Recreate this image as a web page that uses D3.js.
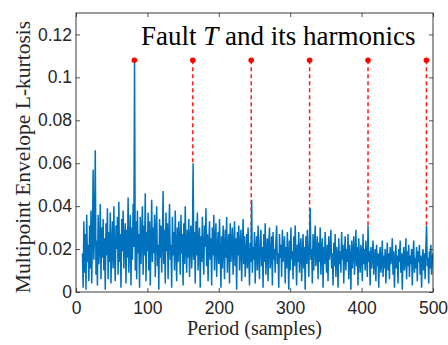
<!DOCTYPE html>
<html>
<head>
<meta charset="utf-8">
<script src="https://cdn.jsdelivr.net/npm/d3@7"></script>
<style>
  body { margin: 0; background: #fff; }
  .tick text { font-family: "Liberation Sans", Arial, sans-serif; }
</style>
</head>
<body>
<svg id="chart"></svg>
<script>
// Periods are integer sample counts, 9..500
const periods = d3.range(9, 501);

// Multipoint envelope L-kurtosis (one per period)
const kurtosis = [
  .018,.002,.033,.009,.027,.001,.036,.014,.022,.005,
  .031,.011,.038,.004,.025,.057,.015,.028,.066,.008,
  .024,.003,.036,.013,.021,.041,.006,.030,.016,.034,
  .010,.025,.001,.032,.017,.039,.006,.028,.014,.037,
  .004,.022,.033,.011,.040,.017,.005,.031,.020,.035,
  .008,.042,.014,.027,.002,.034,.019,.038,.011,.025,
  .032,.004,.029,.016,.044,.009,.024,.036,.003,.030,
  .015,.041,.021,.108,.010,.033,.006,.038,.018,.027,
  .002,.035,.013,.026,.040,.008,.031,.017,.046,.005,
  .028,.019,.037,.010,.033,.003,.023,.043,.014,.030,
  .018,.036,.007,.027,.040,.012,.022,.001,.034,.016,
  .031,.009,.024,.047,.013,.029,.004,.037,.019,.032,
  .006,.026,.041,.015,.022,.002,.035,.017,.028,.010,
  .038,.020,.005,.030,.014,.033,.023,.008,.036,.018,
  .027,.003,.032,.013,.040,.021,.009,.029,.016,.034,
  .007,.025,.031,.011,.020,.060,.015,.028,.004,.033,
  .017,.037,.010,.024,.030,.002,.026,.014,.035,.019,
  .008,.031,.021,.039,.012,.027,.005,.022,.033,.015,
  .025,.003,.030,.017,.036,.010,.024,.032,.007,.020,
  .028,.013,.034,.018,.002,.026,.011,.031,.021,.006,
  .029,.016,.035,.009,.022,.027,.004,.032,.014,.023,
  .030,.008,.019,.033,.012,.025,.001,.028,.017,.031,
  .010,.022,.029,.005,.020,.034,.013,.026,.007,.018,
  .027,.011,.030,.016,.003,.023,.014,.043,.009,.021,
  .015,.028,.004,.020,.026,.010,.031,.017,.006,.024,
  .029,.012,.021,.002,.027,.014,.032,.008,.019,.025,
  .005,.022,.030,.011,.017,.026,.003,.028,.015,.020,
  .009,.024,.031,.013,.018,.002,.027,.016,.022,.007,
  .029,.014,.020,.026,.004,.021,.011,.028,.017,.001,
  .024,.010,.030,.015,.019,.006,.026,.012,.031,.018,
  .003,.022,.014,.028,.009,.020,.025,.005,.016,.027,
  .011,.021,.001,.026,.013,.029,.018,.007,.023,.039,
  .015,.020,.004,.027,.010,.022,.031,.012,.017,.026,
  .006,.023,.014,.030,.008,.019,.025,.002,.021,.013,
  .028,.016,.009,.022,.005,.026,.015,.020,.029,.011,
  .018,.003,.023,.012,.027,.007,.021,.017,.002,.025,
  .013,.019,.009,.028,.015,.022,.004,.018,.026,.010,
  .020,.014,.027,.006,.022,.016,.001,.024,.011,.019,
  .026,.008,.017,.029,.012,.021,.003,.025,.015,.009,
  .022,.018,.005,.027,.013,.020,.010,.024,.016,.007,
  .031,.014,.019,.003,.021,.011,.017,.024,.008,.015,
  .020,.005,.022,.012,.018,.002,.016,.021,.009,.014,
  .024,.007,.017,.011,.020,.004,.015,.023,.010,.018,
  .006,.021,.013,.016,.025,.008,.019,.002,.015,.022,
  .011,.017,.004,.020,.014,.024,.009,.018,.001,.016,
  .021,.010,.015,.025,.006,.019,.012,.022,.007,.017,
  .013,.020,.003,.018,.024,.009,.016,.011,.021,.005,
  .019,.014,.022,.008,.017,.002,.015,.020,.010,.018,
  .006,.021,.031,.012,.016,.004,.019,.011,.022,.008,
  .015,.018
];

// Fault period T and its harmonics, with the marker level
const harmonicPeriods = [81.8, 163.6, 245.4, 327.2, 409.0, 490.8];
const harmonicLevel = 0.108;

const xTicks = [0, 100, 200, 300, 400, 500];
const yTicks = [0, 0.02, 0.04, 0.06, 0.08, 0.1, 0.12];

const W = 448, H = 345;
const margin = { top: 13, right: 15, bottom: 53, left: 76 };
const width = W - margin.left - margin.right;
const height = H - margin.top - margin.bottom;

const svg = d3.select("#chart").attr("width", W).attr("height", H);
const g = svg.append("g").attr("transform", `translate(${margin.left},${margin.top})`);

const x = d3.scaleLinear().domain([0, 500]).range([0, width]);
const y = d3.scaleLinear().domain([0, 0.13]).range([height, 0]);

g.append("defs").append("clipPath").attr("id", "clip")
  .append("rect").attr("width", width).attr("height", height);

// signal value at the sample nearest to a harmonic
const valueAt = p => kurtosis[Math.round(p) - periods[0]];

// Harmonic markers: dashed line from the dot down to the signal
g.selectAll("line.harm")
  .data(harmonicPeriods)
  .enter()
  .append("line")
    .attr("class", "harm")
    .attr("x1", d => x(d)).attr("x2", d => x(d))
    .attr("y1", y(harmonicLevel)).attr("y2", d => y(valueAt(d)))
    .attr("stroke", "#ff1a1a")
    .attr("stroke-width", 1.5)
    .attr("stroke-dasharray", "4,3");

// Signal
const line = d3.line().x((d, i) => x(periods[i])).y(d => y(d));
g.append("path")
  .datum(kurtosis)
  .attr("clip-path", "url(#clip)")
  .attr("fill", "none")
  .attr("stroke", "#0072BD")
  .attr("stroke-width", 1.5)
  .attr("stroke-linejoin", "bevel")
  .attr("d", line);

g.selectAll("circle.harm")
  .data(harmonicPeriods)
  .enter()
  .append("circle")
    .attr("cx", d => x(d))
    .attr("cy", y(harmonicLevel))
    .attr("r", 2.8)
    .attr("fill", "#ff0000");

// Axes, MATLAB style: ticks inward on all four sides
const axisColor = "#262626";
function styleAxis(sel) {
  sel.select(".domain").remove();
  sel.selectAll(".tick line").attr("stroke", axisColor).attr("stroke-width", 0.8);
  sel.selectAll(".tick text").attr("fill", "#262626").style("font-size", "17.5px");
}

g.append("g")
  .attr("transform", `translate(0,${height})`)
  .call(d3.axisBottom(x).tickValues(xTicks).tickSizeInner(-4).tickSizeOuter(0).tickPadding(10))
  .call(styleAxis);

g.append("g")
  .call(d3.axisTop(x).tickValues(xTicks).tickSizeInner(-4).tickSizeOuter(0).tickFormat(""))
  .call(styleAxis);

g.append("g")
  .call(d3.axisLeft(y).tickValues(yTicks).tickSizeInner(-4).tickSizeOuter(0).tickPadding(4)
    .tickFormat(d => d === 0 ? "0" : String(+d.toFixed(2))))
  .call(styleAxis);

g.append("g")
  .attr("transform", `translate(${width},0)`)
  .call(d3.axisRight(y).tickValues(yTicks).tickSizeInner(-4).tickSizeOuter(0).tickFormat(""))
  .call(styleAxis);

g.append("rect")
  .attr("width", width).attr("height", height)
  .attr("fill", "none")
  .attr("stroke", axisColor)
  .attr("stroke-width", 0.9);

// Title inside the axes
const title = g.append("text")
  .attr("x", 65).attr("y", 32)
  .style("font-family", "'Liberation Serif', 'Times New Roman', serif")
  .style("font-size", "27px")
  .attr("fill", "#000");
title.append("tspan").text("Fault ");
title.append("tspan").style("font-style", "italic").text("T");
title.append("tspan").text(" and its harmonics");

// Axis labels
svg.append("text")
  .attr("x", margin.left + width / 2).attr("y", 335)
  .attr("text-anchor", "middle")
  .style("font-family", "'Liberation Serif', 'Times New Roman', serif")
  .style("font-size", "20px")
  .attr("fill", "#262626")
  .text("Period (samples)");

svg.append("text")
  .attr("transform", `translate(30,157) rotate(-90)`)
  .attr("text-anchor", "middle")
  .style("font-family", "'Liberation Serif', 'Times New Roman', serif")
  .style("font-size", "21.5px")
  .attr("fill", "#262626")
  .text("Multipoint Envelope L-kurtosis");
</script>
</body>
</html>
